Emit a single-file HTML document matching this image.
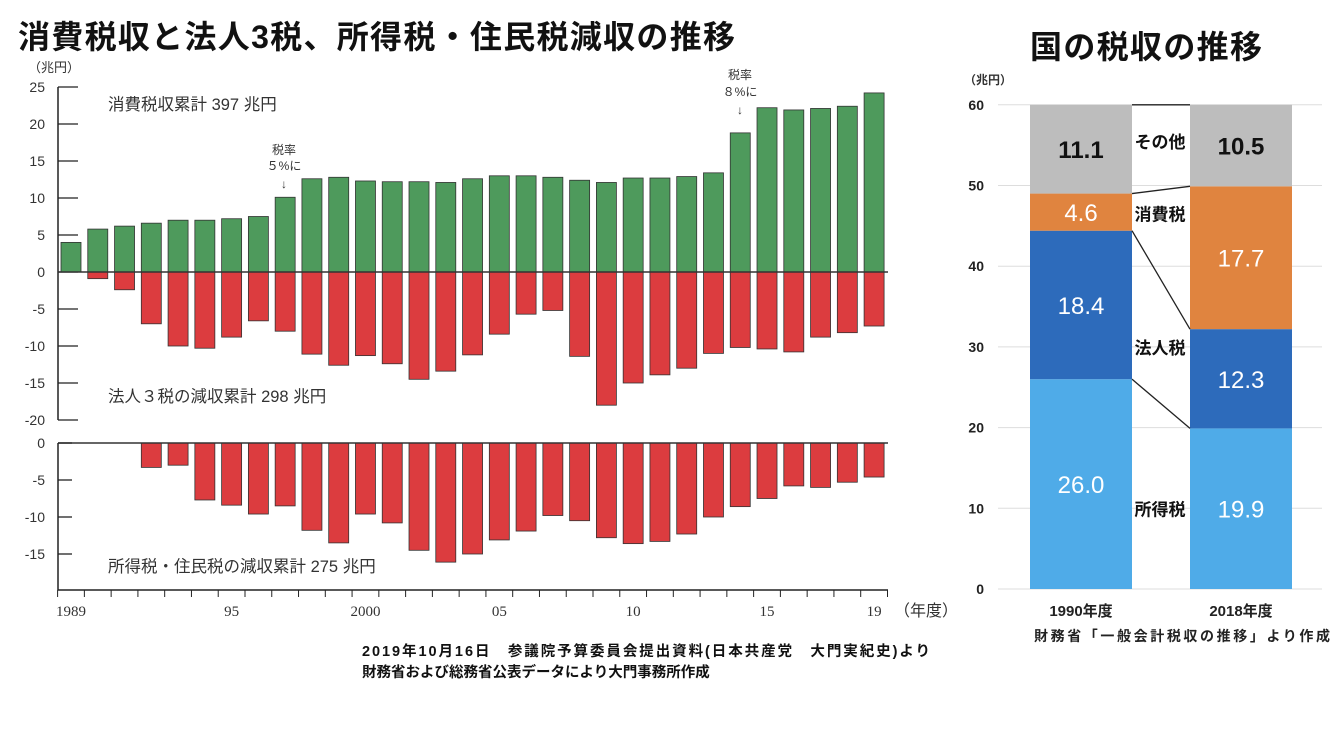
<!DOCTYPE html>
<html><head><meta charset="utf-8"><style>
body{margin:0;background:#fff;}
svg{display:block;font-family:"Liberation Sans","Noto Sans CJK JP",sans-serif;}
</style></head><body>
<svg id="s" width="1334" height="750" viewBox="0 0 1334 750">
<text x="18" y="48" font-size="32" font-weight="bold" fill="#111" textLength="717">消費税収と法人3税、所得税・住民税減収の推移</text>
<text x="1030" y="58" font-size="32" font-weight="bold" fill="#111" textLength="232">国の税収の推移</text>
<text x="28" y="72" font-size="13" fill="#333">（兆円）</text>
<text x="108" y="110" font-size="16.5" fill="#333">消費税収累計 397 兆円</text>
<text x="108" y="402" font-size="16.5" fill="#333">法人３税の減収累計 298 兆円</text>
<text x="108" y="572" font-size="16.5" fill="#333">所得税・住民税の減収累計 275 兆円</text>
<g font-size="12" fill="#333" text-anchor="middle">
<text x="284" y="154">税率</text><text x="284" y="170">５%に</text><text x="284" y="188">↓</text></g>
<g font-size="12" fill="#333" text-anchor="middle">
<text x="740" y="79">税率</text><text x="740" y="96">８%に</text><text x="740" y="114">↓</text></g>
<text x="894" y="616" font-size="16" fill="#333">（年度）</text>
<text x="362" y="656" font-size="14.5" font-weight="bold" fill="#111" textLength="568">2019年10月16日　参議院予算委員会提出資料(日本共産党　大門実紀史)より</text>
<text x="362" y="677" font-size="14.5" font-weight="bold" fill="#111">財務省および総務省公表データにより大門事務所作成</text>
<text x="964" y="84" font-size="12" font-weight="bold" fill="#333">（兆円）</text>
<text x="1034" y="641" font-size="14" font-weight="bold" fill="#222" textLength="296">財務省「一般会計税収の推移」より作成</text>
<g id="L"></g><g id="R"></g>
</svg>
<script>
const years=[1989,1990,1991,1992,1993,1994,1995,1996,1997,1998,1999,2000,2001,2002,2003,2004,2005,2006,2007,2008,2009,2010,2011,2012,2013,2014,2015,2016,2017,2018,2019];
const consumption=[4.0,5.8,6.2,6.6,7.0,7.0,7.2,7.5,10.1,12.6,12.8,12.3,12.2,12.2,12.1,12.6,13.0,13.0,12.8,12.4,12.1,12.7,12.7,12.9,13.4,18.8,22.2,21.9,22.1,22.4,24.2];
const corporate=[0,-0.9,-2.4,-7.0,-10.0,-10.3,-8.8,-6.6,-8.0,-11.1,-12.6,-11.3,-12.4,-14.5,-13.4,-11.2,-8.4,-5.7,-5.2,-11.4,-18.0,-15.0,-13.9,-13.0,-11.0,-10.2,-10.4,-10.8,-8.8,-8.2,-7.3];
const income=[0,0,0,-3.3,-3.0,-7.7,-8.4,-9.6,-8.5,-11.8,-13.5,-9.6,-10.8,-14.5,-16.1,-15.0,-13.1,-11.9,-9.8,-10.5,-12.8,-13.6,-13.3,-12.3,-10.0,-8.6,-7.5,-5.8,-6.0,-5.3,-4.6];
const upperTicks=[25,20,15,10,5,0,-5,-10,-15,-20];
const lowerTicks=[0,-5,-10,-15];
const xLabelYears=[1989,1995,2000,2005,2010,2015,2019];
const xLabelText=["1989","95","2000","05","10","15","19"];
const stackYears=["1990年度","2018年度"];
const stackNames=["所得税","法人税","消費税","その他"];
const stack1990=[26.0,18.4,4.6,11.1];
const stack2018=[19.9,12.3,17.7,10.5];
const rightTicks=[0,10,20,30,40,50,60];

const NS="http://www.w3.org/2000/svg";
function mk(t,a,p,txt){const e=document.createElementNS(NS,t);for(const k in a)e.setAttribute(k,a[k]);if(txt!=null)e.textContent=txt;p.appendChild(e);return e;}
const L=document.getElementById('L'),R=document.getElementById('R');
const xC=i=>71+i*26.77;
const yU=v=>272-v*7.4;
const yL=v=>443-v*7.4;
const BW=20;
let ax=mk('line',{x1:58,y1:87,x2:58,y2:420,stroke:'#222','stroke-width':1.5},L);

upperTicks.forEach(v=>{mk('line',{x1:58,x2:78,y1:yU(v),y2:yU(v),stroke:'#222','stroke-width':1.3},L);
 const t=mk('text',{x:45,y:yU(v)+5,'font-size':14,'text-anchor':'end',fill:'#333'},L,String(v));
 });
years.forEach((y,i)=>{
 const c=consumption[i];
 const r=mk('rect',{x:xC(i)-BW/2,y:yU(c),width:BW,height:yU(0)-yU(c),fill:'#4e9a5c',stroke:'#333','stroke-width':0.8},L);
 
 const k=corporate[i];
 if(k<0){const b=mk('rect',{x:xC(i)-BW/2,y:yU(0),width:BW,height:yU(k)-yU(0),fill:'#dc3c3f',stroke:'#333','stroke-width':0.8},L);
 }
 const m=income[i];
 if(m<0){const b=mk('rect',{x:xC(i)-BW/2,y:yL(0),width:BW,height:yL(m)-yL(0),fill:'#dc3c3f',stroke:'#333','stroke-width':0.8},L);
 }
});
mk('line',{x1:58,x2:888,y1:yU(0),y2:yU(0),stroke:'#333','stroke-width':1.5},L);
ax=mk('line',{x1:58,y1:443,x2:58,y2:590,stroke:'#222','stroke-width':1.5},L);

mk('line',{x1:58,x2:888,y1:yL(0),y2:yL(0),stroke:'#333','stroke-width':1.5},L);
mk('line',{x1:58,x2:888,y1:590,y2:590,stroke:'#222','stroke-width':1.5},L);
lowerTicks.forEach(v=>{mk('line',{x1:58,x2:72,y1:yL(v),y2:yL(v),stroke:'#222','stroke-width':1.3},L);
 const t=mk('text',{x:45,y:yL(v)+5,'font-size':14,'text-anchor':'end',fill:'#333'},L,String(v));
 });
years.forEach((y,i)=>{mk('line',{x1:xC(i)-13.4,x2:xC(i)-13.4,y1:590,y2:597,stroke:'#222'},L);});
mk('line',{x1:xC(30)+13.4,x2:xC(30)+13.4,y1:590,y2:597,stroke:'#222'},L);
xLabelYears.forEach((y,j)=>{const i=years.indexOf(y);
 const t=mk('text',{x:xC(i),y:616,'font-size':15,'text-anchor':'middle',fill:'#333','font-family':'Liberation Serif,serif'},L,xLabelText[j]);
 });
const yR=v=>589-Math.min(v,60)*8.07;
rightTicks.forEach(v=>{mk('line',{x1:998,x2:1322,y1:yR(v),y2:yR(v),stroke:'#ddd'},R);
 const t=mk('text',{x:984,y:yR(v)+5,'font-size':14,'font-weight':'bold','text-anchor':'end',fill:'#222'},R,String(v));
 });
const colors=['#4fabe8','#2d6bbb','#e0843f','#bdbdbd'];
const txtCol=['#fff','#fff','#fff','#111'];
const bx=[1030,1190],bw=102;
[stack1990,stack2018].forEach((arr,b)=>{let acc=0;
 arr.forEach((v,k)=>{const r=mk('rect',{x:bx[b],y:yR(acc+v),width:bw,height:yR(acc)-yR(acc+v),fill:colors[k]},R);
  
  const t=mk('text',{x:bx[b]+bw/2,y:(yR(acc)+yR(acc+v))/2+9,'font-size':24,'text-anchor':'middle',fill:txtCol[k],'font-weight':k==3?'bold':'normal'},R,v.toFixed(1));
  
  acc+=v;});
 const t=mk('text',{x:bx[b]+bw/2,y:616,'font-size':15,'font-weight':'bold','text-anchor':'middle',fill:'#222'},R,stackYears[b]);
 
});
let a1=0,a2=0;
for(let k=0;k<4;k++){a1+=stack1990[k];a2+=stack2018[k];
 const l=mk('line',{x1:bx[0]+bw,y1:yR(a1),x2:bx[1],y2:yR(a2),stroke:'#222','stroke-width':1.3},R);
 }
const catY=[10,30,46.5,55.5];
stackNames.forEach((n,k)=>{const t=mk('text',{x:1160,y:yR(catY[k])+7,'font-size':17,'font-weight':'bold','text-anchor':'middle',fill:'#111'},R,n);
 });
</script>
</body></html>
